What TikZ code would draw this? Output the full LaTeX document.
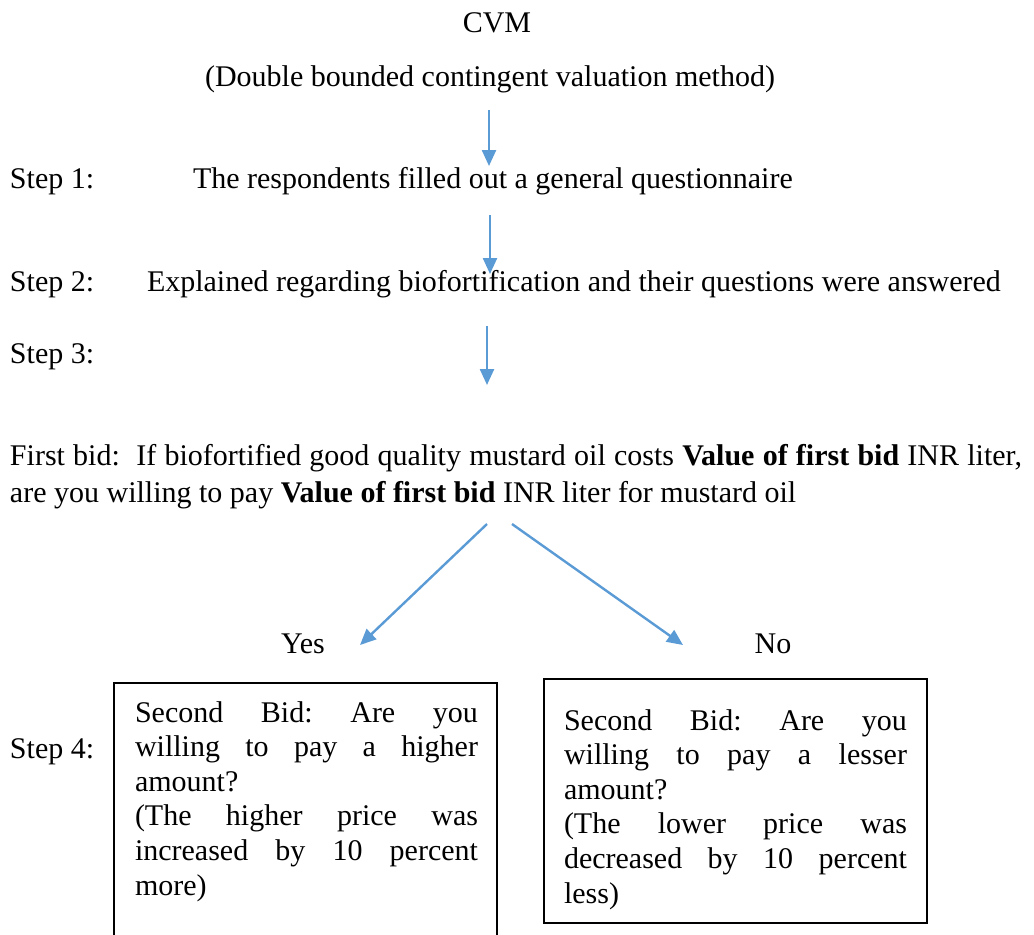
\documentclass[tikz,border=0pt]{standalone}
\usepackage{fontspec}
\setmainfont{Liberation Serif}
\usetikzlibrary{arrows.meta}
\definecolor{arrowblue}{RGB}{91,155,213}
\newcommand{\jline}[1]{\makebox[\linewidth][s]{#1}}
\frenchspacing
\begin{document}
\begin{tikzpicture}[x=0.5pt,y=-0.5pt,
  every node/.style={inner sep=0pt, outer sep=0pt, font=\fontsize{15}{17.3}\selectfont\frenchspacing},
  txt/.style={anchor=base west},
  ctr/.style={anchor=base},
  flow/.style={draw=arrowblue, line width=1.2pt, -{Triangle[length=8pt,width=7pt]}},
  bidbox/.style={draw=black, line width=1pt, rectangle, minimum width=191.5pt}]
\useasboundingbox (0,0) rectangle (1034,934);

% titles
\node[ctr] (cvm) at (497,32) {CVM};
\node[ctr] (dbl) at (490,86) {(Double bounded contingent valuation method)};

% step 1
\node[txt] (s1) at (10,188) {Step 1:};
\node[txt] (s1t) at (193,188) {The respondents filled out a general questionnaire};
% step 2
\node[txt] (s2) at (10,291) {Step 2:};
\node[txt] (s2t) at (147,291) {Explained regarding biofortification and their questions were answered};
% step 3
\node[txt] (s3) at (10,363) {Step 3:};
\node[txt] (fb1) at (10,465) {\makebox[506pt][s]{First bid:\ \ If biofortified good quality mustard oil costs \textbf{Value of first bid} INR liter,}};
\node[txt] (fb2) at (10,502) {are you willing to pay \textbf{Value of first bid} INR liter for mustard oil};

% arrows
\coordinate (a1s) at (489,110); \coordinate (a1e) at (489,166);
\coordinate (a2s) at (490,215); \coordinate (a2e) at (490,274);
\coordinate (a3s) at (487,326); \coordinate (a3e) at (487,385);
\coordinate (lys) at (487,524); \coordinate (lye) at (360,645);
\coordinate (rns) at (512,524); \coordinate (rne) at (683,645);
\draw[flow] (a1s) -- (a1e);
\draw[flow] (a2s) -- (a2e);
\draw[flow] (a3s) -- (a3e);
\draw[flow] (lys) -- (lye);
\draw[flow] (rns) -- (rne);

% yes / no
\node[ctr] (yes) at (303,653) {Yes};
\node[ctr] (no) at (773,653) {No};

% step 4
\node[txt] (s4) at (10,758) {Step 4:};
\node[bidbox, minimum height=138.5pt] (yesbox) at (305.5,821.5) {};
\node[bidbox, minimum height=122pt] (nobox) at (735.5,801) {};

\node[txt] (yestext) at (135,722) {\parbox[t]{171.5pt}{%
\jline{Second Bid: Are you}\par
\jline{willing to pay a higher}\par
amount?\par
\jline{(The higher price was}\par
\jline{increased by 10 percent}\par
more)}};

\node[txt] (notext) at (564,730) {\parbox[t]{171.5pt}{%
\jline{Second Bid: Are you}\par
\jline{willing to pay a lesser}\par
amount?\par
\jline{(The lower price was}\par
\jline{decreased by 10 percent}\par
less)}};
\end{tikzpicture}
\end{document}
